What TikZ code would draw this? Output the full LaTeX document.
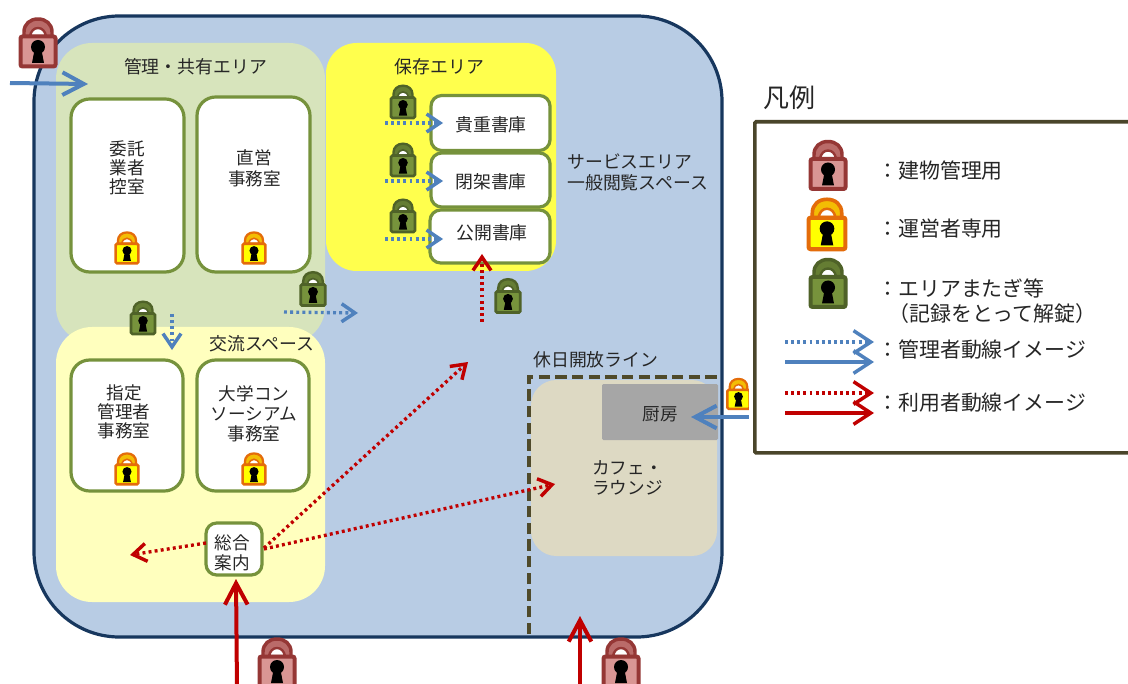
\documentclass[tikz,border=0pt]{standalone}
\usepackage{fontspec}
\setmainfont{Noto Sans CJK JP}
\usetikzlibrary{arrows.meta}
\definecolor{mainfill}{HTML}{B8CCE4}
\definecolor{mainline}{HTML}{17375E}
\definecolor{mgmt}{HTML}{D7E4BC}
\definecolor{store}{HTML}{FFFF4D}
\definecolor{kouryu}{HTML}{FFFFBE}
\definecolor{boxline}{HTML}{76923C}
\definecolor{cafe}{HTML}{DDD9C3}
\definecolor{kitchen}{HTML}{A6A6A6}
\definecolor{dashline}{HTML}{4F4A2A}
\definecolor{legline}{HTML}{4A452A}
\definecolor{flowblue}{HTML}{4F81BD}
\definecolor{flowred}{HTML}{C00000}
\definecolor{txt}{HTML}{262626}
\definecolor{lockRf}{HTML}{D99694}
\definecolor{lockRd}{HTML}{953735}
\definecolor{lockOf}{HTML}{FFFF00}
\definecolor{lockOd}{HTML}{E46C0A}
\definecolor{lockGf}{HTML}{77933C}
\definecolor{lockGd}{HTML}{4F6228}
\tikzset{
  x=0.75pt,y=-0.75pt,
  sz/.style 2 args={minimum width=#1*0.75pt,minimum height=#2*0.75pt},
  room/.style={draw=boxline,line width=2.4pt,fill=white,rounded corners=14pt,inner sep=0pt,align=center,text=txt,font=\fontsize{13.2}{14.4}\selectfont},
  label/.style={inner sep=0pt,text=txt,align=left,font=\fontsize{13.4}{15.2}\selectfont},
  leg/.style={inner sep=0pt,anchor=west,text=txt,font=\fontsize{15.7}{18}\selectfont},
  zone/.style={inner sep=0pt,draw=none},
  solidflow/.style={line width=3pt,-{Straight Barb[length=16pt,width=17pt,line width=3pt]}},
  dotflow/.style={line width=2.5pt,dash pattern=on 2.2pt off 2.4pt,-{Straight Barb[length=10pt,width=13.5pt,line width=2.6pt]}},
  pics/lock/.style n args={3}{code={
    \begin{scope}[scale=#3]
      \path[draw=#2,fill=#1!55!#2,line width=#3*2.6pt]
        (-14,-6) -- (-14,-11) .. controls (-14,-19) and (-8,-24) .. (0,-24)
        .. controls (8,-24) and (14,-19) .. (14,-11) -- (14,-6) -- cycle;
      \path[draw=#2,fill=white,line width=#3*1.8pt]
        (-8,-7) .. controls (-7,-12) and (-4,-15) .. (0,-15)
        .. controls (4,-15) and (7,-12) .. (8,-7) -- cycle;
      \path[draw=#2,fill=#1,line width=#3*3pt,rounded corners=#3*1.5pt] (-17.5,-6.5) rectangle (17.5,23.5);
      \path[fill=black] (0,4) circle[radius=7];
      \path[fill=black] (-3.5,7) -- (3.5,7) -- (6,20) -- (-6,20) -- cycle;
    \end{scope}
  }},
}
\newcommand{\lockred}[3]{\pic at (#1,#2) {lock={lockRf}{lockRd}{#3}};}
\newcommand{\lockorg}[3]{\pic at (#1,#2) {lock={lockOf}{lockOd}{#3}};}
\newcommand{\lockgrn}[3]{\pic at (#1,#2) {lock={lockGf}{lockGd}{#3}};}
\begin{document}
\begin{tikzpicture}
\clip (0,0) rectangle (1128,684);
\fill[white] (0,0) rectangle (1128,684);

% main area
\node[zone,draw=mainline,line width=2.4pt,fill=mainfill,rounded corners=64pt,sz={688}{621}] (mainarea) at (378,326.5) {};
% zones
\node[zone,fill=mgmt,rounded corners=27pt,sz={269}{300}] (mgmtzone) at (190.5,193) {};
\node[zone,fill=kouryu,rounded corners=27pt,sz={269}{275}] (kouryuzone) at (190.5,464.5) {};
\node[zone,fill=store,rounded corners=23pt,sz={230}{228}] (storezone) at (441,157) {};
\node[zone,fill=cafe,rounded corners=19pt,sz={186}{176}] (cafezone) at (624,468) {};
\node[zone,fill=kitchen,rounded corners=1pt,sz={116}{56}] (kitchenroom) at (660,412) {};
\node[inner sep=0pt,text=txt,font=\fontsize{13.2}{15}\selectfont] (kitchenlabel) at (660,414) {厨房};

% dashed line
\coordinate (dashA) at (529,634);
\coordinate (dashB) at (529,377);
\coordinate (dashC) at (717,377);
\draw[dashline,line width=3.2pt,dash pattern=on 8.5pt off 4pt] (dashA) -- (dashB) -- (dashC);

% rooms
\node[room,sz={113}{173}] (r1) at (127.5,185.5) {};
\node[label,align=center,font=\fontsize{13.2}{14.4}\selectfont] (r1t) at (127,168) {委託\\業者\\控室};
\node[room,sz={113}{175}] (r2) at (253.5,184.5) {};
\node[label,align=center,font=\fontsize{13.2}{15.5}\selectfont] (r2t) at (254.5,168) {直営\\事務室};
\node[room,sz={112}{131}] (r3) at (127,425.5) {};
\node[label,align=center,font=\fontsize{13.2}{14.4}\selectfont] (r3t) at (124,412) {指定\\管理者\\事務室};
\node[room,sz={112}{131}] (r4) at (253,425.5) {};
\node[label,align=center,font=\fontsize{13.2}{15}\selectfont] (r4t) at (254,414) {大学コン\\ソーシアム\\事務室};
\node[room,rounded corners=8pt,sz={119}{55}] (s1) at (490.5,123) {};
\node[label] (s1t) at (491,125) {貴重書庫};
\node[room,rounded corners=8pt,sz={119}{54}] (s2) at (490.5,180) {};
\node[label] (s2t) at (491,182) {閉架書庫};
\node[room,rounded corners=8pt,sz={120}{53}] (s3) at (490,236.5) {};
\node[label] (s3t) at (492,233) {公開書庫};
\node[room,rounded corners=8pt,sz={56}{52}] (info) at (234,549) {};
\node[label,align=center,font=\fontsize{13.2}{15}\selectfont] (infot) at (232,553) {総合\\案内};

% zone labels
\node[label] (l1) at (195.5,67) {管理・共有エリア};
\node[label] (l2) at (439.5,67) {保存エリア};
\node[label,anchor=west] (l3) at (567,172.5) {サービスエリア\\一般閲覧スペース};
\node[label] (l4) at (262,344) {交流スペース};
\node[label,anchor=west] (l5) at (533,360) {休日開放ライン};
\node[label,anchor=west,font=\fontsize{13.2}{15}\selectfont] (l6) at (592,478) {カフェ・\\ラウンジ};

% locks in plan
\lockred{38}{43}{1}
\lockred{277}{663}{1}
\lockred{621}{663}{1}
\lockorg{127}{248}{.65}
\lockorg{254}{248}{.65}
\lockorg{127}{469}{.65}
\lockorg{254}{469}{.65}
\lockgrn{143}{318}{.68}
\lockgrn{313}{289}{.7}
\lockgrn{403}{102}{.68}
\lockgrn{403}{160}{.68}
\lockgrn{403}{216}{.68}
\lockgrn{508}{296}{.7}

% flows
\coordinate (aS) at (10,83);   \coordinate (aE) at (88,84);
\draw[flowblue,solidflow] (aS) -- (aE);
\coordinate (bS) at (172,314); \coordinate (bE) at (172,350);
\draw[flowblue,dotflow] (bS) -- (bE);
\coordinate (cS) at (284,312); \coordinate (cE) at (358,313);
\draw[flowblue,dotflow] (cS) -- (cE);
\coordinate (dS) at (385,123); \coordinate (dE) at (443,123);
\draw[flowblue,dotflow] (dS) -- (dE);
\coordinate (eS) at (385,181); \coordinate (eE) at (443,181);
\draw[flowblue,dotflow] (eS) -- (eE);
\coordinate (fS) at (385,239); \coordinate (fE) at (443,239);
\draw[flowblue,dotflow] (fS) -- (fE);
\coordinate (gS) at (482,322); \coordinate (gE) at (482,254);
\draw[flowred,dotflow] (gS) -- (gE);
\coordinate (hS) at (264,548); \coordinate (hE) at (468,362);
\draw[flowred,dotflow] (hS) -- (hE);
\coordinate (iS) at (264,549); \coordinate (iE) at (555,484);
\draw[flowred,dotflow] (iS) -- (iE);
\coordinate (jS) at (206,543); \coordinate (jE) at (130,555);
\draw[flowred,dotflow] (jS) -- (jE);
\coordinate (kS) at (237,690); \coordinate (kE) at (236,579);
\draw[flowred,solidflow] (kS) -- (kE);
\coordinate (mS) at (580,690); \coordinate (mE) at (580,616);
\draw[flowred,solidflow] (mS) -- (mE);
\coordinate (nS) at (748.5,417); \coordinate (nE) at (691,417);
\lockorg{738.5}{394}{.63}
\draw[flowblue,solidflow] (nS) -- (nE);
\fill[white] (748.5,370) rectangle (753,430);

% legend
\node[inner sep=0pt,text=txt,font=\fontsize{19.5}{22}\selectfont] (legtitle) at (789,98) {凡例};
\node[zone,fill=white,draw=legline,line width=2.8pt,rounded corners=1pt,anchor=north west,sz={420}{331}] (legbox) at (753,120) {};
\lockred{828}{165.5}{1}
\lockorg{827}{224.5}{1.05}
\lockgrn{828}{283.5}{1}
\node[leg] (t1) at (877,171) {：建物管理用};
\node[leg] (t2) at (877,229) {：運営者専用};
\node[leg] (t3) at (877,288) {：エリアまたぎ等};
\node[leg] (t3b) at (888,314) {（記録をとって解錠）};
\node[leg] (t4) at (877,350) {：管理者動線イメージ};
\node[leg] (t5) at (877,403) {：利用者動線イメージ};
\coordinate (lgA) at (785,342); \coordinate (lgB) at (874,342);
\draw[flowblue,dotflow,-{Straight Barb[length=13pt,width=17pt,line width=2.6pt]}] (lgA) -- (lgB);
\coordinate (lgC) at (785,362); \coordinate (lgD) at (874,362);
\draw[flowblue,solidflow,line width=2.8pt,-{Straight Barb[length=13pt,width=17pt,line width=2.6pt]}] (lgC) -- (lgD);
\coordinate (lgE) at (785,393); \coordinate (lgF) at (874,393);
\draw[flowred,dotflow,-{Straight Barb[length=13pt,width=17pt,line width=2.6pt]}] (lgE) -- (lgF);
\coordinate (lgG) at (785,413); \coordinate (lgH) at (874,413);
\draw[flowred,solidflow,line width=2.8pt,-{Straight Barb[length=13pt,width=17pt,line width=2.6pt]}] (lgG) -- (lgH);
\end{tikzpicture}
\end{document}
